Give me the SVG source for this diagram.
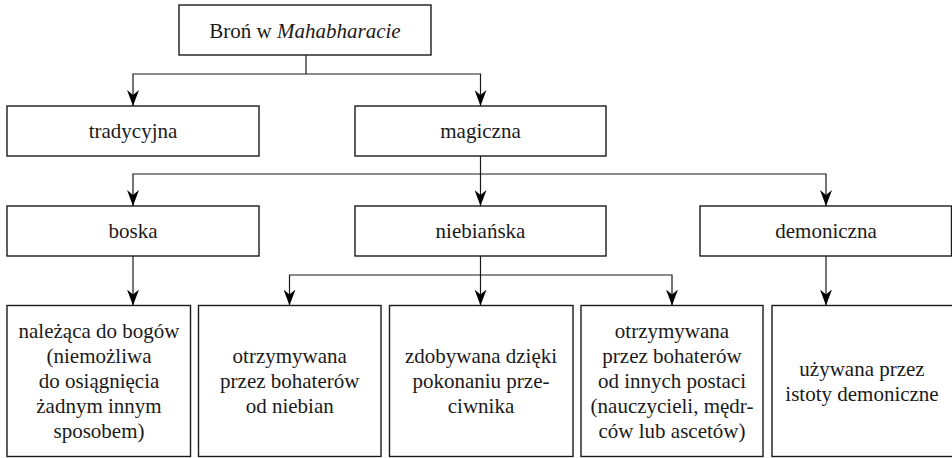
<svg xmlns="http://www.w3.org/2000/svg" width="952" height="458" viewBox="0 0 952 458">
<style>
.box{fill:#fff;stroke:#1a1a1a;stroke-width:1.4}
.t{font-family:"Liberation Serif","Times New Roman",serif;font-size:21px;fill:#1a1a1a;text-anchor:middle}
.c{fill:none;stroke:#1a1a1a;stroke-width:1.2}
</style>
<defs>
<marker id="ah" viewBox="0 0 16 12" refX="16" refY="6" markerWidth="16" markerHeight="12" markerUnits="userSpaceOnUse" orient="auto">
<path d="M0,0 L16,6 L0,12 L5,6 Z" fill="#000"/>
</marker>
</defs>
<rect width="952" height="458" fill="#fff"/>
<g id="connectors">
<path class="c" d="M306,55 V74 H133 V106" marker-end="url(#ah)"/>
<path class="c" d="M306,74 H480.5 V106" marker-end="url(#ah)"/>
<path class="c" d="M480.5,156 V174 H133 V206" marker-end="url(#ah)"/>
<path class="c" d="M480.5,174 V206" marker-end="url(#ah)"/>
<path class="c" d="M480.5,174 H826 V206" marker-end="url(#ah)"/>
<path class="c" d="M133,256 V305.5" marker-end="url(#ah)"/>
<path class="c" d="M480.5,256 V275 H289.5 V305.5" marker-end="url(#ah)"/>
<path class="c" d="M480.5,275 V305.5" marker-end="url(#ah)"/>
<path class="c" d="M480.5,275 H672 V305.5" marker-end="url(#ah)"/>
<path class="c" d="M826,256 V305.5" marker-end="url(#ah)"/>
</g>
<g id="root">
<rect class="box" x="179" y="5" width="252" height="50"/>
<text class="t" x="305" y="37.5">Broń w <tspan font-style="italic">Mahabharacie</tspan></text>
</g>
<g id="tradycyjna">
<rect class="box" x="7" y="106" width="252" height="50"/>
<text class="t" x="133" y="138">tradycyjna</text>
</g>
<g id="magiczna">
<rect class="box" x="355" y="106" width="251" height="50"/>
<text class="t" x="480.5" y="138">magiczna</text>
</g>
<g id="boska">
<rect class="box" x="7" y="206" width="252" height="50"/>
<text class="t" x="133" y="238">boska</text>
</g>
<g id="niebianska">
<rect class="box" x="355" y="206" width="251" height="50"/>
<text class="t" x="480.5" y="238">niebiańska</text>
</g>
<g id="demoniczna">
<rect class="box" x="700" y="206" width="251.5" height="50"/>
<text class="t" x="826" y="238">demoniczna</text>
</g>
<g id="b1">
<rect class="box" x="7" y="305.5" width="183.5" height="151"/>
<text class="t" y="338"><tspan x="99">należąca do bogów</tspan><tspan x="99" dy="25">(niemożliwa</tspan><tspan x="99" dy="25">do osiągnięcia</tspan><tspan x="99" dy="25">żadnym innym</tspan><tspan x="99" dy="25">sposobem)</tspan></text>
</g>
<g id="b2">
<rect class="box" x="198.5" y="305.5" width="182.5" height="151"/>
<text class="t" y="363"><tspan x="289.75">otrzymywana</tspan><tspan x="289.75" dy="25">przez bohaterów</tspan><tspan x="289.75" dy="25">od niebian</tspan></text>
</g>
<g id="b3">
<rect class="box" x="389.5" y="305.5" width="183.5" height="151"/>
<text class="t" y="363"><tspan x="481">zdobywana dzięki</tspan><tspan x="481" dy="25">pokonaniu prze-</tspan><tspan x="481" dy="25">ciwnika</tspan></text>
</g>
<g id="b4">
<rect class="box" x="581" y="305.5" width="182" height="151"/>
<text class="t" y="338"><tspan x="672">otrzymywana</tspan><tspan x="672" dy="25">przez bohaterów</tspan><tspan x="672" dy="25">od innych postaci</tspan><tspan x="672" dy="25">(nauczycieli, mędr-</tspan><tspan x="672" dy="25">ców lub ascetów)</tspan></text>
</g>
<g id="b5">
<rect class="box" x="772" y="305.5" width="182" height="151"/>
<text class="t" y="375.5"><tspan x="862">używana przez</tspan><tspan x="862" dy="25">istoty demoniczne</tspan></text>
</g>
</svg>
